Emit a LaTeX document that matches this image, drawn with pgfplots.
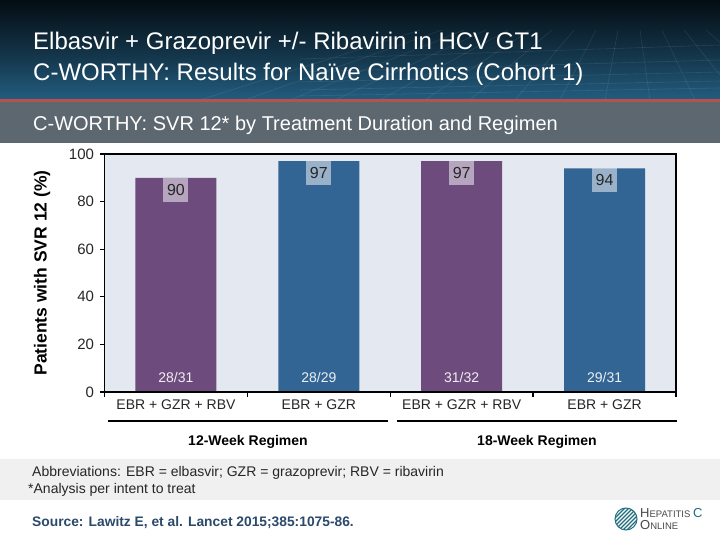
\documentclass[border=0pt]{standalone}
\usepackage{fontspec}
\setmainfont{Liberation Sans}
\usepackage{pgfplots}
\pgfplotsset{compat=1.18}
\definecolor{barpurple}{HTML}{6D4C7D}
\definecolor{barblue}{HTML}{336594}
\definecolor{plotbg}{HTML}{E4E8F0}
\definecolor{redline}{HTML}{B5524E}
\definecolor{subband}{HTML}{5D6770}
\definecolor{footband}{HTML}{F0F0F0}
\definecolor{srcblue}{HTML}{2B4A6B}
\definecolor{logoteal}{HTML}{1F6E7E}
\definecolor{logogray}{HTML}{4A4A4A}
\definecolor{tbtop}{HTML}{040D13}
\definecolor{tbbot}{HTML}{235D80}
\begin{document}
\begin{tikzpicture}[x=1pt,y=1pt]
\useasboundingbox (0,0) rectangle (720,540);
\fill[white] (0,0) rectangle (720,540);
% title bar
\shade[top color=tbtop, bottom color=tbbot, middle color=tbtop!55!tbbot] (0,440) rectangle (720,540);
\begin{scope}
  \clip (0,440) rectangle (720,540);
  \foreach \i in {0,...,16} {
    \draw[white, opacity=0.09, line width=0.6pt] (200+\i*45,440) -- (420+\i*22,510);
  }
  \foreach \j/\k in {444/452,450/459,458/468,468/480,481/495} {
    \draw[white, opacity=0.09, line width=0.6pt] (300,\j) -- (720,\k);
  }
\end{scope}
\fill[redline] (0,438) rectangle (720,440.5);
\fill[subband] (0,397) rectangle (720,438);
\node[anchor=base west, inner sep=0, text=white, font=\fontsize{24}{28}\selectfont] at (33,490) {Elbasvir + Grazoprevir +/- Ribavirin in HCV GT1};
\node[anchor=base west, inner sep=0, text=white, font=\fontsize{24}{28}\selectfont] at (33,459) {C-WORTHY: Results for Naïve Cirrhotics (Cohort 1)};
\node[anchor=base west, inner sep=0, text=white, font=\fontsize{20}{22}\selectfont] at (33,409) {C-WORTHY: SVR 12* by Treatment Duration and Regimen};
% footer band
\fill[footband] (0,40) rectangle (720,81);
\node[anchor=base west, inner sep=0, text=black!85, font=\fontsize{14}{15}\selectfont] at (32,63) {Abbreviations: EBR = elbasvir; GZR = grazoprevir; RBV = ribavirin};
\node[anchor=base west, inner sep=0, text=black!85, font=\fontsize{14}{15}\selectfont] at (28,46) {*Analysis per intent to treat};
\node[anchor=base west, inner sep=0, text=srcblue, font=\bfseries\fontsize{13.8}{15}\selectfont] at (32,13) {Source: Lawitz E, et al. Lancet 2015;385:1075-86.};
% logo
\begin{scope}
  \clip (626,21) circle (11);
  \fill[white] (626,21) circle (11);
  \foreach \d in {-16,-12,...,16} {
    \draw[logoteal, line width=1.4pt] (626+\d-12,21-12) -- (626+\d+12,21+12);
  }
\end{scope}
\draw[logoteal, line width=1pt] (626,21) circle (11);
\node[anchor=base west, inner sep=0, text=logogray] at (640,22) {{\fontsize{13}{13}\selectfont H}{\fontsize{9.5}{10}\selectfont EPATITIS} {\fontsize{13}{13}\selectfont\color{logoteal}C}};
\node[anchor=base west, inner sep=0, text=logogray] at (640,10) {{\fontsize{13}{13}\selectfont O}{\fontsize{9.5}{10}\selectfont NLINE}};
% y label
\node[rotate=90, font=\bfseries\fontsize{17.5}{18}\selectfont, text=black] at (42,267) {Patients with SVR 12 (\%)};
% group brackets
\draw[black, line width=1.8pt] (108,119) -- (388,119);
\draw[black, line width=1.8pt] (397,119) -- (677,119);
\node[anchor=base, inner sep=0, font=\bfseries\fontsize{14}{15}\selectfont] at (248,94) {12-Week Regimen};
\node[anchor=base, inner sep=0, font=\bfseries\fontsize{14}{15}\selectfont] at (537,94) {18-Week Regimen};
\begin{axis}[
  at={(104.5pt,148pt)}, anchor=south west,
  scale only axis, width=571.5pt, height=238pt,
  xmin=-0.5, xmax=3.5, ymin=0, ymax=100,
  xtick={-0.5,0.5,1.5,2.5,3.5}, xticklabels={},
  ytick={0,20,40,60,80,100},
  tick align=outside, tick pos=left, major tick length=5pt,
  every tick/.style={black, line width=1.3pt},
  axis line style={black, line width=1.5pt},
  axis background/.style={fill=plotbg},
  axis on top,
  yticklabel style={font=\fontsize{15}{15}\selectfont, text=black!85, xshift=-2pt},
  /pgf/number format/assume math mode=true,
  ybar, bar width=81pt,
  clip=false,
]
\addplot[fill=barpurple, draw=none, bar shift=0pt] coordinates {(0,90) (2,97)};
\addplot[fill=barblue, draw=none, bar shift=0pt] coordinates {(1,97) (3,94)};
\foreach \x/\v in {0/90,1/97,2/97,3/94} {
  \edef\temp{\noexpand\node[anchor=north, fill=white, fill opacity=0.5, text opacity=1, minimum width=25pt, minimum height=24pt, inner sep=0pt, font=\noexpand\fontsize{16}{16}\noexpand\selectfont, text=black!85] at (axis cs:\x,\v) {\v};}
  \temp
}
\node[anchor=base, inner sep=0, text=white!90!barpurple, font=\fontsize{14}{14}\selectfont, yshift=9pt] at (axis cs:0,0) {28/31};
\node[anchor=base, inner sep=0, text=white!90!barblue, font=\fontsize{14}{14}\selectfont, yshift=9pt] at (axis cs:1,0) {28/29};
\node[anchor=base, inner sep=0, text=white!90!barpurple, font=\fontsize{14}{14}\selectfont, yshift=9pt] at (axis cs:2,0) {31/32};
\node[anchor=base, inner sep=0, text=white!90!barblue, font=\fontsize{14}{14}\selectfont, yshift=9pt] at (axis cs:3,0) {29/31};
\node[anchor=base, inner sep=0, text=black!85, font=\fontsize{14}{14}\selectfont, yshift=-17.3pt] at (axis cs:0,0) {EBR + GZR + RBV};
\node[anchor=base, inner sep=0, text=black!85, font=\fontsize{14}{14}\selectfont, yshift=-17.3pt] at (axis cs:1,0) {EBR + GZR};
\node[anchor=base, inner sep=0, text=black!85, font=\fontsize{14}{14}\selectfont, yshift=-17.3pt] at (axis cs:2,0) {EBR + GZR + RBV};
\node[anchor=base, inner sep=0, text=black!85, font=\fontsize{14}{14}\selectfont, yshift=-17.3pt] at (axis cs:3,0) {EBR + GZR};
\end{axis}
\end{tikzpicture}
\end{document}
